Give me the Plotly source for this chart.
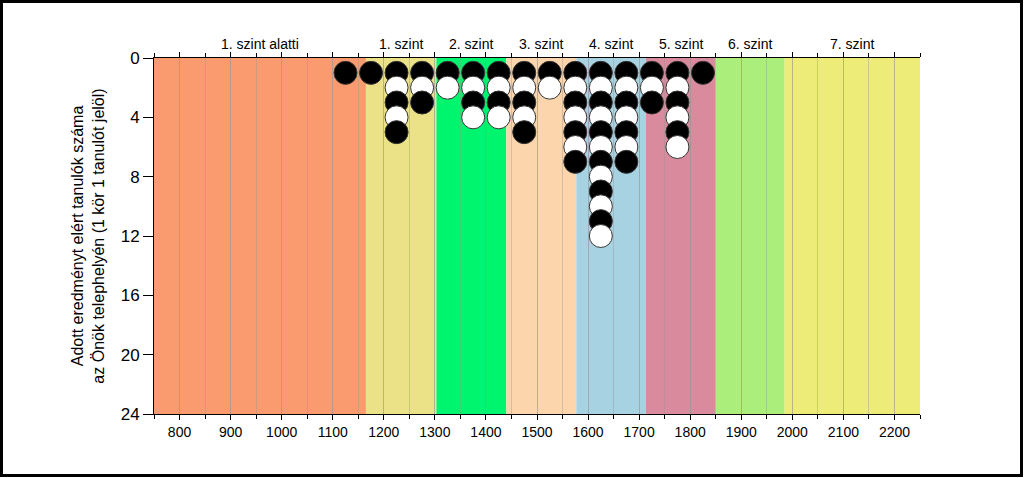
import plotly.graph_objects as go

# score bins (centre of each 50-point bin) and number of students in each
bin_centres = [1125, 1175, 1225, 1275, 1325, 1375, 1425, 1475, 1525, 1575, 1625, 1675, 1725, 1775, 1825]
student_counts = [1, 1, 5, 3, 2, 4, 4, 5, 2, 7, 12, 7, 3, 6, 1]

# proficiency level boundaries
level_names = ["1. szint alatti", "1. szint", "2. szint", "3. szint", "4. szint", "5. szint", "6. szint", "7. szint"]
level_bounds = [750, 1165, 1303, 1440, 1577, 1713, 1849, 1985, 2250]
level_colors = ["#F99B6E", "#EBE186", "#00F56E", "#FDD5AD", "#A6D2E2", "#D98A9C", "#ABEE7B", "#EDEC78"]

x_ticks = [800, 900, 1000, 1100, 1200, 1300, 1400, 1500, 1600, 1700, 1800, 1900, 2000, 2100, 2200]
y_ticks = [0, 4, 8, 12, 16, 20, 24]

# one circle per student, stacked downward, alternating black / white
xs, ys, cols = [], [], []
for k in range(1, max(student_counts) + 1):
    for c, n in zip(bin_centres, student_counts):
        if n >= k:
            xs.append(c)
            ys.append(k)
            cols.append("black" if k % 2 == 1 else "white")

fig = go.Figure()
fig.add_trace(go.Scatter(x=xs, y=ys, mode="markers", cliponaxis=False,
                         marker=dict(size=23, color=cols, line=dict(width=1, color="#333333")),
                         hoverinfo="skip", showlegend=False))

shapes = []
for i, col in enumerate(level_colors):
    shapes.append(dict(type="rect", xref="x", yref="paper", x0=level_bounds[i], x1=level_bounds[i + 1],
                       y0=0, y1=1, fillcolor=col, line=dict(width=0), layer="below"))
    fig.add_annotation(x=(level_bounds[i] + level_bounds[i + 1]) / 2, y=1, xref="x", yref="paper",
                       yanchor="bottom", yshift=4, text=level_names[i], showarrow=False,
                       font=dict(size=14, color="black"))

L, R, T, B = 154, 104, 58, 64
pw, ph = 1024 - L - R, 478 - T - B
shapes.append(dict(type="rect", xref="paper", yref="paper",
                   x0=-(L - 1.5) / pw, x1=1 + (R - 2.5) / pw, y0=-(B - 2.5) / ph, y1=1 + (T - 1.5) / ph,
                   line=dict(color="black", width=3), fillcolor="rgba(0,0,0,0)", layer="above"))

grid = "rgba(150,150,150,0.4)"
fig.update_layout(
    width=1024, height=478, margin=dict(l=L, r=R, t=T, b=B),
    paper_bgcolor="white", plot_bgcolor="white",
    font=dict(family="Liberation Sans, Arial, sans-serif", color="black"),
    shapes=shapes,
    xaxis=dict(range=[750, 2250], tickvals=x_ticks, ticks="outside", ticklen=5, tickcolor="black",
               showline=True, linecolor="black", linewidth=1, mirror="ticks",
               showgrid=True, gridcolor=grid, gridwidth=1,
               minor=dict(dtick=50, tick0=750, ticks="outside", ticklen=4, tickcolor="black",
                          showgrid=True, gridcolor=grid),
               tickfont=dict(size=14), zeroline=False, fixedrange=True),
    yaxis=dict(range=[24, 0], tickvals=y_ticks, ticks="outside", ticklen=10, tickcolor="black",
               showline=True, linecolor="black", linewidth=1, showgrid=False, zeroline=False,
               tickfont=dict(size=17),
               title=dict(text="Adott eredményt elért tanulók száma<br>az Önök telephelyén (1 kör 1 tanulót jelöl)",
                          font=dict(size=16), standoff=12)),
)

fig.write_html("out.html", config={"displayModeBar": False},
               post_script="document.body.style.margin='0';")
